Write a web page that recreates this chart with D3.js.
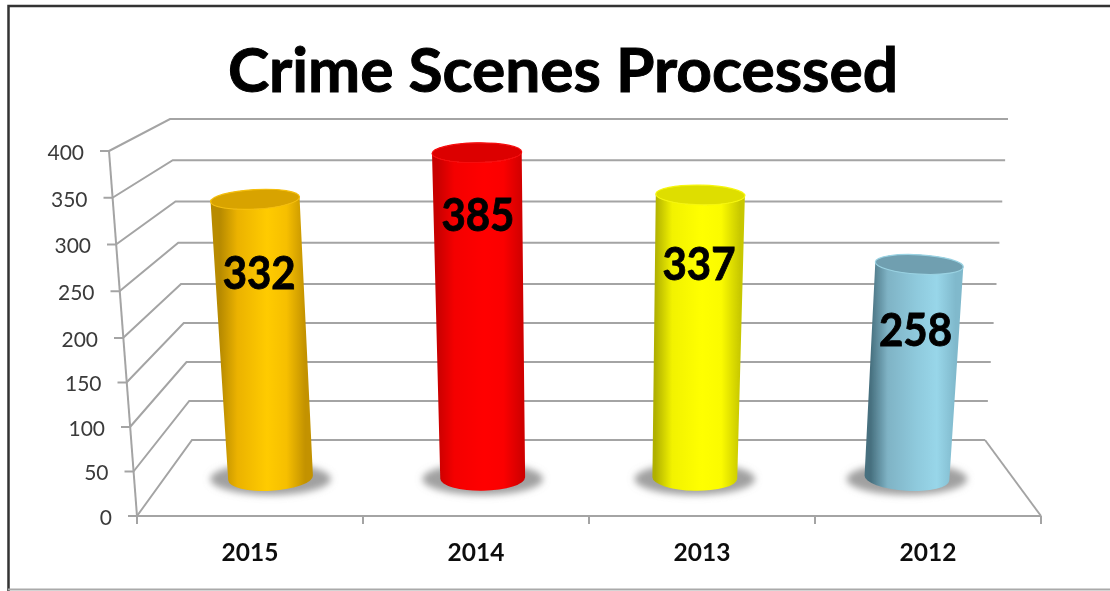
<!DOCTYPE html>
<html lang="en">
<head>
<meta charset="UTF-8">
<title>Crime Scenes Processed</title>
<style>
    html, body { margin: 0; padding: 0; background: #fff; }
    svg { display: block; }
    text { font-family: Lato, "Open Sans", sans-serif; }
    .title { font-size: 61px; font-weight: 700; fill: #000; stroke: #000; stroke-width: 1px; }
    .y.axis text { font-size: 21px; fill: #3a3a3a; }
    .x.axis text { font-size: 24.5px; font-weight: 700; fill: #111; }
    .axis path, .axis line, .wall { fill: none; stroke: #a4a4a4; stroke-width: 2px; }
    .value { font-size: 46px; font-weight: 700; fill: #000; stroke: #000; stroke-width: 0.9px; text-anchor: middle; }
</style>
</head>
<body>
<svg width="1110" height="591"></svg>
<script src="https://d3js.org/d3.v7.min.js"></script>
<script>
var years = ["2015", "2014", "2013", "2012"];
var scenes = [332, 385, 337, 258];
var yTicks = [0, 50, 100, 150, 200, 250, 300, 350, 400];
var bodyStops = [
    ["#b88b00", "#ebb200", "#ffcb00", "#f6bf00", "#c39200"],
    ["#c80000", "#f40000", "#ff0000", "#fb0000", "#d00000"],
    ["#b0b000", "#f2f200", "#ffff00", "#fbfb00", "#c8c800"],
    ["#47707f", "#7fb3c5", "#8fcadd", "#98d6e9", "#80b9cc"]
];
var capFill = ["#d8a300", "#dc0000", "#dede00", "#6f9fb0"];
var rimFill = ["#f5bf10", "#f81010", "#f6f610", "#9ad2e2"];

// how far each value label sits under the top of its cylinder
var labelDrop = [74, 62, 69, 65];

var svg = d3.select("svg");

// chart box is a screenshot of a 3D excel chart, only left/top/bottom edges show
svg.append("path")
    .attr("d", "M8.5,591V6H1110")
    .attr("fill", "none").attr("stroke", "#333").attr("stroke-width", 2.5);
svg.append("line")
    .attr("x1", 8).attr("x2", 1110).attr("y1", 589.5).attr("y2", 589.5)
    .attr("stroke", "#aaa").attr("stroke-width", 2);

var defs = svg.append("defs");
defs.append("filter").attr("id", "soft")
    .attr("x", "-5%").attr("y", "-5%").attr("width", "110%").attr("height", "110%")
    .append("feGaussianBlur").attr("stdDeviation", 0.55);
defs.append("filter").attr("id", "shadow")
    .attr("x", "-30%").attr("y", "-50%").attr("width", "160%").attr("height", "200%")
    .append("feGaussianBlur").attr("stdDeviation", 3.5);

var g = svg.append("g").attr("filter", "url(#soft)");

g.append("text").attr("class", "title")
    .attr("x", 563).attr("y", 92).attr("text-anchor", "middle")
    .attr("textLength", 670).attr("lengthAdjust", "spacingAndGlyphs")
    .text("Crime Scenes Processed");

// front and back planes of the 3D box, the perspective is not quite linear
var yFront = d3.scaleLinear().domain([0, 200, 400]).range([516, 338, 151]);
var yBack = d3.scaleLinear().domain([0, 200, 400]).range([440, 284, 119]);
var leftFront = d3.scaleLinear().domain([0, 400]).range([137, 109]);
var leftBack = d3.scaleLinear().domain([0, 400]).range([192, 170]);
var rightFront = d3.scaleLinear().domain([0, 400]).range([1041, 1069]);
var rightBack = d3.scaleLinear().domain([0, 400]).range([985, 1008]);

var band = d3.scaleBand().domain(years).range([0, 1]).paddingInner(0.6).paddingOuter(0.3);

// u across the categories (0-1), v the value, t depth (0 front, 1 back)
function project(u, v, t) {
    var l = leftFront(v) + t * (leftBack(v) - leftFront(v));
    var r = rightFront(v) + t * (rightBack(v) - rightFront(v));
    return [l + u * (r - l), yFront(v) + t * (yBack(v) - yFront(v))];
}

// walls
g.selectAll(".wall").data(yTicks).enter().append("path")
    .attr("class", "wall")
    .attr("d", function(d) {
        return d3.line()([[leftFront(d), yFront(d)], [leftBack(d), yBack(d)], [rightBack(d), yBack(d)]]);
    });
g.append("path").attr("class", "wall")
    .attr("d", d3.line()([[rightBack(0), yBack(0)], [rightFront(0), yFront(0)]]));
g.append("path").attr("class", "wall")
    .attr("d", d3.line()([[leftFront(400), yFront(400)], [leftFront(0), yFront(0)]]));

// value axis, ticks pushed along the slanted edge
var yAxis = g.append("g").attr("class", "y axis")
    .call(d3.axisLeft(yFront).tickValues(yTicks).tickSize(9).tickPadding(16));
yAxis.select(".domain").remove();
yAxis.selectAll(".tick")
    .attr("transform", function(d) { return "translate(" + leftFront(d) + "," + yFront(d) + ")"; });
yAxis.selectAll(".tick text").attr("dy", "0.42em");

// category axis
var xAxisScale = d3.scaleBand().domain(years).range([leftFront(0), rightFront(0)]);
var xAxis = g.append("g").attr("class", "x axis")
    .attr("transform", "translate(0," + yFront(0) + ")")
    .call(d3.axisBottom(xAxisScale).tickSize(0).tickPadding(28));
xAxis.select(".domain").attr("d", "M" + leftFront(0) + ",0H" + rightFront(0));
xAxis.selectAll(".sep").data(d3.range(years.length + 1)).enter().append("line")
    .attr("class", "sep")
    .attr("x1", function(i) { return leftFront(0) + i * xAxisScale.step(); })
    .attr("x2", function(i) { return leftFront(0) + i * xAxisScale.step(); })
    .attr("y1", 0).attr("y2", 8);

// cylinders
var depth = 0.5, ryTop = 0.22, ryBase = 0.3;
var bars = years.map(function(year, i) {
    var u0 = band(year), u1 = u0 + band.bandwidth(), um = (u0 + u1) / 2;
    var top = project(um, scenes[i], depth), base = project(um, 0, depth);
    top[1] += 4.5;
    return {
        i: i, year: year, value: scenes[i], top: top, base: base,
        rTop: (project(u1, scenes[i], depth)[0] - project(u0, scenes[i], depth)[0]) / 2,
        rBase: (project(u1, 0, depth)[0] - project(u0, 0, depth)[0]) / 2,
        angle: Math.atan2(top[0] - base[0], base[1] - top[1])
    };
});

function cylinder(b) {
    var c = Math.cos(b.angle), s = Math.sin(b.angle), deg = b.angle * 180 / Math.PI;
    var tl = [b.top[0] - b.rTop * c, b.top[1] - b.rTop * s], tr = [b.top[0] + b.rTop * c, b.top[1] + b.rTop * s];
    var bl = [b.base[0] - b.rBase * c, b.base[1] - b.rBase * s], br = [b.base[0] + b.rBase * c, b.base[1] + b.rBase * s];
    return "M" + tl + "L" + bl +
        "A" + b.rBase + "," + b.rBase * ryBase + " " + deg + " 0 0 " + br +
        "L" + tr +
        "A" + b.rTop + "," + b.rTop * ryTop + " " + deg + " 0 0 " + tl + "Z";
}

bars.forEach(function(b) {
    var grad = defs.append("linearGradient").attr("id", "body" + b.i)
        .attr("gradientUnits", "userSpaceOnUse")
        .attr("x1", (b.top[0] + b.base[0]) / 2 - b.rBase).attr("x2", (b.top[0] + b.base[0]) / 2 + b.rBase)
        .attr("y1", 0).attr("y2", 0);
    [0, 0.2, 0.55, 0.78, 1].forEach(function(o, k) {
        grad.append("stop").attr("offset", o).attr("stop-color", bodyStops[b.i][k]);
    });
});

var bar = g.selectAll(".bar").data(bars).enter().append("g").attr("class", "bar");

bar.append("ellipse")
    .attr("cx", function(d) { return d.base[0]; })
    .attr("cy", function(d) { return d.base[1] + 1; })
    .attr("rx", function(d) { return d.rBase * 1.42; })
    .attr("ry", 16)
    .attr("fill", "#a0a0a0")
    .attr("filter", "url(#shadow)");

bar.append("path")
    .attr("d", cylinder)
    .attr("fill", function(d) { return "url(#body" + d.i + ")"; });

bar.append("ellipse")
    .attr("transform", function(d) {
        return "translate(" + d.top + ") rotate(" + d.angle * 180 / Math.PI + ")";
    })
    .attr("rx", function(d) { return d.rTop; })
    .attr("ry", function(d) { return d.rTop * ryTop; })
    .attr("fill", function(d) { return capFill[d.i]; })
    .attr("stroke", function(d) { return rimFill[d.i]; })
    .attr("stroke-width", 1.2);

g.selectAll(".value").data(bars).enter().append("text")
    .attr("class", "value")
    .attr("x", function(d) {
        var k = labelDrop[d.i] / (d.base[1] - d.top[1]);
        return d.top[0] + k * (d.base[0] - d.top[0]);
    })
    .attr("y", function(d) { return d.top[1] + labelDrop[d.i]; })
    .attr("dy", "0.35em")
    .attr("textLength", 73).attr("lengthAdjust", "spacingAndGlyphs")
    .text(function(d) { return d.value; });
</script>
</body>
</html>
